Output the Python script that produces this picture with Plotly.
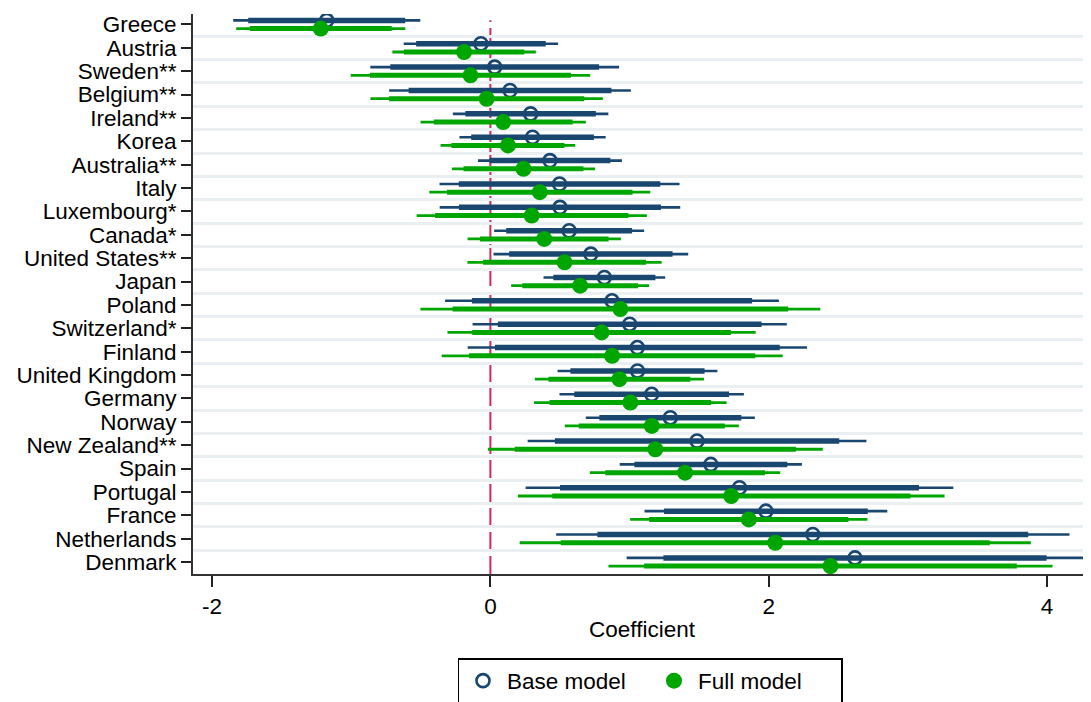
import plotly.graph_objects as go

countries = ["Greece", "Austria", "Sweden**", "Belgium**", "Ireland**", "Korea",
             "Australia**", "Italy", "Luxembourg*", "Canada*", "United States**", "Japan",
             "Poland", "Switzerland*", "Finland", "United Kingdom", "Germany", "Norway",
             "New Zealand**", "Spain", "Portugal", "France", "Netherlands", "Denmark"]

coef_base = [-1.176, -0.068, 0.031, 0.141, 0.289, 0.303, 0.428, 0.497, 0.500, 0.566,
             0.722, 0.819, 0.874, 1.001, 1.056, 1.057, 1.159, 1.293, 1.485, 1.584,
             1.790, 1.980, 2.317, 2.620]
se_base = [0.343, 0.283, 0.456, 0.443, 0.285, 0.268, 0.264, 0.440, 0.441, 0.275,
           0.357, 0.223, 0.612, 0.576, 0.622, 0.293, 0.338, 0.310, 0.621, 0.334,
           0.784, 0.445, 0.941, 0.837]

coef_full = [-1.219, -0.189, -0.143, -0.027, 0.092, 0.126, 0.238, 0.355, 0.297, 0.387,
             0.533, 0.645, 0.934, 0.799, 0.875, 0.927, 1.006, 1.160, 1.185, 1.399,
             1.731, 1.857, 2.047, 2.444]
se_full = [0.310, 0.263, 0.439, 0.426, 0.303, 0.247, 0.262, 0.405, 0.422, 0.281,
           0.356, 0.253, 0.733, 0.565, 0.625, 0.310, 0.353, 0.319, 0.614, 0.349,
           0.782, 0.435, 0.937, 0.814]

x_ticks = [-2, 0, 2, 4]
x_tick_labels = ["-2", "0", "2", "4"]
x_title = "Coefficient"
legend_names = ["Base model", "Full model"]

Z95 = 1.96
Z90 = 1.645
NAVY = "#1a476f"
GREEN = "#00a600"
FONT = "Liberation Sans, Arial, sans-serif"
FS = 22.5

rows = list(range(len(countries)))
OFF = 0.176


def ci_segments(coefs, ses, z, offset):
    xs, ys = [], []
    for k, (c, s) in enumerate(zip(coefs, ses)):
        xs += [c - z * s, c + z * s, None]
        ys += [k + offset, k + offset, None]
    return xs, ys


fig = go.Figure()

for coefs, ses, color, offset, name, symbol, msize, thin_w, thick_w in [
    (coef_base, se_base, NAVY, -OFF, legend_names[0], "circle-open", 13, 2.6, 5.5),
    (coef_full, se_full, GREEN, OFF, legend_names[1], "circle", 16, 2.8, 5.0),
]:
    xs, ys = ci_segments(coefs, ses, Z95, offset)
    fig.add_trace(go.Scatter(x=xs, y=ys, mode="lines", line=dict(color=color, width=thin_w),
                             showlegend=False, hoverinfo="skip"))
    xs, ys = ci_segments(coefs, ses, Z90, offset)
    fig.add_trace(go.Scatter(x=xs, y=ys, mode="lines", line=dict(color=color, width=thick_w),
                             showlegend=False, hoverinfo="skip"))
    fig.add_trace(go.Scatter(
        x=coefs, y=[k + offset for k in rows], mode="markers", name=name,
        marker=dict(symbol=symbol, size=msize, color=color,
                    line=dict(color=color, width=2.6 if symbol == "circle-open" else 0)),
    ))

# zero reference line
fig.add_shape(type="line", x0=0, x1=0, xref="x", yref="paper", y0=0, y1=0.989,
              line=dict(color="#d0285a", width=2, dash="18px,6px"), layer="below")

# plot area: page x 193..1091, y 14..574 (page has an 8px body offset)
fig.update_layout(
    width=1091, height=702,
    margin=dict(l=185, r=8, t=6, b=136, autoexpand=False),
    paper_bgcolor="white", plot_bgcolor="white",
    font=dict(family=FONT, size=FS, color="black"),
    showlegend=True,
    legend=dict(orientation="h", xanchor="center", x=(650 - 193) / 898, yanchor="top",
                y=-(658 - 574) / 560,
                bordercolor="black", borderwidth=1.5, font=dict(size=FS),
                traceorder="normal", itemwidth=38, entrywidth=138),
    xaxis=dict(range=[-2.137, 4.316], tickvals=x_ticks, ticktext=x_tick_labels,
               ticks="outside", ticklen=11,
               tickwidth=2, tickcolor="#222", showline=True, linecolor="#333", linewidth=2,
               showgrid=False, zeroline=False,
               title=dict(text=x_title, font=dict(size=FS), standoff=3),
               tickfont=dict(size=FS)),
    yaxis=dict(range=[len(countries) - 0.487, -0.449], tickvals=rows, ticktext=countries,
               ticks="outside", ticklen=10, tickwidth=1.5, tickcolor="#222",
               showline=True, linecolor="#333", linewidth=2, showgrid=False, zeroline=False,
               tickfont=dict(size=FS),
               minor=dict(tickvals=[k + 0.5 for k in rows[:-1]], showgrid=True,
                          gridcolor="#eaf0f2", gridwidth=3, ticks="")),
)

fig.write_html("out.html")
